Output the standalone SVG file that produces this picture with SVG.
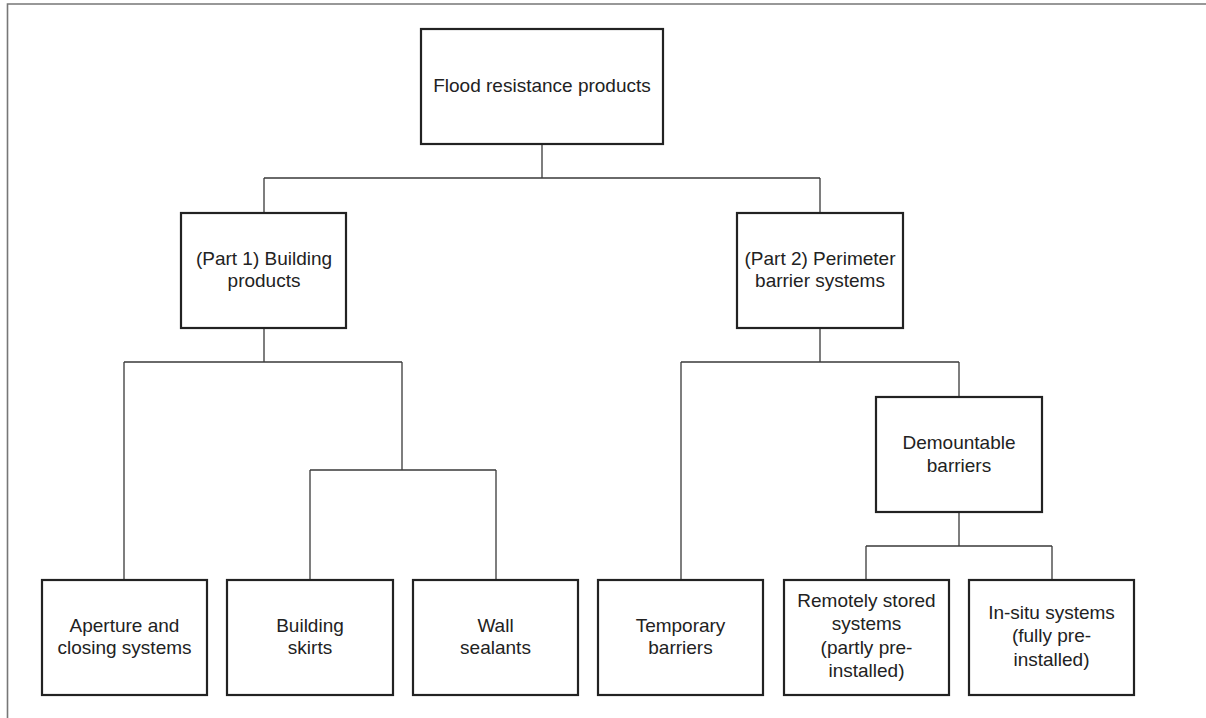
<svg xmlns="http://www.w3.org/2000/svg" width="1206" height="718" viewBox="0 0 1206 718">
<style>
.box{fill:#fff;stroke:#222;stroke-width:2.2}
.t{font-family:"Liberation Sans",Arial,sans-serif;font-size:19px;fill:#222;text-anchor:middle}
.c{fill:none;stroke:#3a3a3a;stroke-width:1.3}
.frame{fill:none;stroke:#777;stroke-width:1.6}
</style>
<rect width="1206" height="718" fill="#fff"/>
<path class="frame" d="M7.5,720 V4 H1210"/>
<g id="connectors">
<path class="c" d="M542,144 V178 M264,178 H820 M264,178 V212 M820,178 V212"/>
<path class="c" d="M264,328 V362 M124,362 H402 M124,362 V580 M402,362 V470 M310,470 H496 M310,470 V580 M496,470 V580"/>
<path class="c" d="M820,328 V362 M681,362 H959 M681,362 V580 M959,362 V397 M959,512 V546 M866,546 H1052 M866,546 V580 M1052,546 V580"/>
</g>
<g id="n-root"><rect class="box" x="421" y="29" width="242" height="115"/><text class="t" x="542" y="92">Flood resistance products</text></g>
<g id="n-part1"><rect class="box" x="181" y="213" width="165" height="115"/><text class="t" x="264" y="265">(Part 1) Building<tspan x="264" dy="22">products</tspan></text></g>
<g id="n-part2"><rect class="box" x="737" y="213" width="166" height="115"/><text class="t" x="820" y="265">(Part 2) Perimeter<tspan x="820" dy="22">barrier systems</tspan></text></g>
<g id="n-demountable"><rect class="box" x="876" y="397" width="166" height="115"/><text class="t" x="959" y="449">Demountable<tspan x="959" dy="23">barriers</tspan></text></g>
<g id="n-aperture"><rect class="box" x="42" y="580" width="165" height="115"/><text class="t" x="124.5" y="632">Aperture and<tspan x="124.5" dy="22">closing systems</tspan></text></g>
<g id="n-skirts"><rect class="box" x="227" y="580" width="166" height="115"/><text class="t" x="310" y="632">Building<tspan x="310" dy="22">skirts</tspan></text></g>
<g id="n-sealants"><rect class="box" x="413" y="580" width="165" height="115"/><text class="t" x="495.5" y="632">Wall<tspan x="495.5" dy="22">sealants</tspan></text></g>
<g id="n-temporary"><rect class="box" x="598" y="580" width="165" height="115"/><text class="t" x="680.5" y="632">Temporary<tspan x="680.5" dy="22">barriers</tspan></text></g>
<g id="n-remote"><rect class="box" x="784" y="580" width="165" height="115"/><text class="t" x="866.5" y="607">Remotely stored<tspan x="866.5" dy="23.3">systems</tspan><tspan x="866.5" dy="23.3">(partly pre-</tspan><tspan x="866.5" dy="23.3">installed)</tspan></text></g>
<g id="n-insitu"><rect class="box" x="969" y="580" width="165" height="115"/><text class="t" x="1051.5" y="619">In-situ systems<tspan x="1051.5" dy="23.3">(fully pre-</tspan><tspan x="1051.5" dy="23.3">installed)</tspan></text></g>
</svg>
